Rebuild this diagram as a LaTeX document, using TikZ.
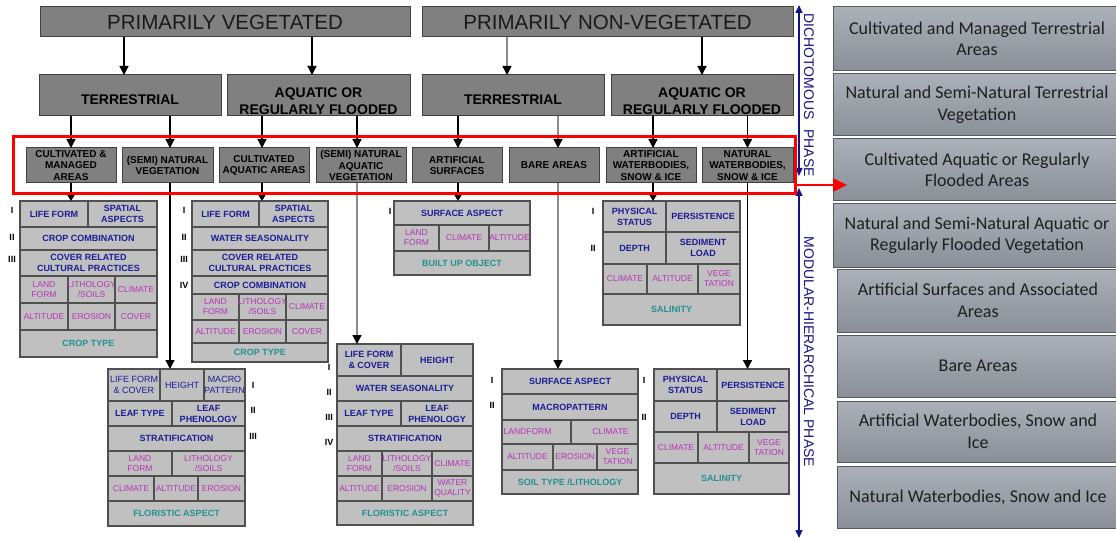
\documentclass[tikz,border=0pt]{standalone}
\usepackage{fontspec}
\setmainfont{Liberation Sans}
\newfontfamily\carlito{Carlito}
\usetikzlibrary{arrows.meta}

\definecolor{boxgray}{RGB}{128,128,128}
\definecolor{boxedge}{RGB}{64,64,64}
\definecolor{cellgray}{RGB}{192,192,192}
\definecolor{cellline}{RGB}{80,80,80}
\definecolor{navytext}{RGB}{28,28,150}
\definecolor{magtext}{RGB}{185,50,185}
\definecolor{tealtext}{RGB}{35,145,145}
\definecolor{axisblue}{RGB}{20,20,130}
\definecolor{panelhi}{RGB}{172,176,184}
\definecolor{panello}{RGB}{138,143,152}
\definecolor{paneledge}{RGB}{85,88,92}

% a plain box node spanning (x1,y1)-(x2,y2)
\newcommand\areabox[6]{%
  \node[#6, minimum width={(#4)-(#2)}, minimum height={(#5)-(#3)}]
    (#1) at ({((#2)+(#4))/2},{((#3)+(#5))/2}) {};}
% one cell of an attribute table: name, x1, y1, x2, y2, text style, text
\newcommand\tcell[7]{%
  \path[cellbox] (#2,#3) rectangle (#4,#5);
  \node[#6] (#1) at ({((#2)+(#4))/2},{((#3)+(#5))/2}) {#7};}

\begin{document}
\begin{tikzpicture}[x=1pt,y=-1pt,
  mainbox/.style={draw=boxedge, fill=boxgray, line width=1pt, inner sep=0, outer sep=0},
  toplbl/.style={font=\fontsize{20.5}{24}\selectfont, text=black!90, inner sep=0},
  midlbl/.style={font=\fontsize{14}{16.5}\selectfont\bfseries, align=center, inner sep=0},
  sublbl/.style={font=\fontsize{10}{11.5}\selectfont\bfseries, align=center, inner sep=0},
  tablebox/.style={draw=cellline, line width=1.2pt, fill=cellgray, inner sep=0, outer sep=0},
  cellbox/.style={draw=cellline, line width=1.1pt, fill=cellgray},
  pri/.style={font=\fontsize{9}{11}\selectfont\bfseries, text=navytext, align=center, inner sep=0},
  pril/.style={font=\fontsize{9}{11}\selectfont, text=navytext, align=center, inner sep=0},
  env/.style={font=\fontsize{8.5}{10}\selectfont, text=magtext, align=center, inner sep=0},
  tech/.style={font=\fontsize{9}{11}\selectfont\bfseries, text=tealtext, align=center, inner sep=0},
  roman/.style={font=\fontsize{9}{11}\selectfont\bfseries, inner sep=0},
  arr/.style={line width=1.3pt, -{Triangle[width=9pt,length=9pt,color=black]}},
  arrs/.style={line width=1.3pt, -{Triangle[width=7pt,length=6pt,color=black]}},
  greyline/.style={draw=black!45},
  redbox/.style={draw=red, line width=3pt, inner sep=0, outer sep=0},
  redarrow/.style={draw=red, line width=2.5pt, -{Triangle[width=13pt,length=14pt]}},
  axis/.style={draw=axisblue, line width=1.5pt,
    {Triangle[width=7pt,length=8pt]}-{Triangle[width=7pt,length=8pt]}},
  phase/.style={font=\fontsize{14}{16}\selectfont, text=axisblue, inner sep=0, rotate=-90},
  panel/.style={draw=paneledge, line width=1pt, top color=panelhi, bottom color=panello,
    inner sep=0, outer sep=0},
  panellbl/.style={font=\carlito\fontsize{18}{21.5}\selectfont, text=black!88,
    align=center, inner sep=0},
]
\useasboundingbox (0,0) rectangle (1116,540);

% ---------- dichotomous phase ----------
\areabox{pv}{40}{7}{410}{37}{mainbox}
\areabox{pnv}{422}{7}{793}{37}{mainbox}
\node[toplbl] (pvl) at (pv.center) {PRIMARILY VEGETATED};
\node[toplbl] (pnvl) at (pnv.center) {PRIMARILY NON-VEGETATED};

\areabox{tv}{39}{75}{221}{116}{mainbox}
\areabox{av}{227}{75}{410}{116}{mainbox}
\areabox{tn}{422}{75}{604}{116}{mainbox}
\areabox{an}{611}{75}{793}{116}{mainbox}
\node[midlbl] (tvl) at ([yshift=-4.5pt]tv.center) {TERRESTRIAL};
\node[midlbl] (avl) at ([yshift=-5.5pt]av.center) {AQUATIC OR\\REGULARLY FLOODED};
\node[midlbl] (tnl) at ([yshift=-4.5pt]tn.center) {TERRESTRIAL};
\node[midlbl] (anl) at ([yshift=-5.5pt]an.center) {AQUATIC OR\\REGULARLY FLOODED};

\areabox{cm}{26}{148}{116}{183}{mainbox}
\areabox{sn}{122}{148}{213}{183}{mainbox}
\areabox{ca}{219}{148}{309}{183}{mainbox}
\areabox{sa}{316}{148}{406}{183}{mainbox}
\areabox{as}{412}{148}{502}{183}{mainbox}
\areabox{ba}{509}{148}{599}{183}{mainbox}
\areabox{aw}{606}{148}{696}{183}{mainbox}
\areabox{nw}{702}{148}{793}{183}{mainbox}
\node[sublbl] (cml) at (cm.center) {CULTIVATED \&\\MANAGED\\AREAS};
\node[sublbl] (snl) at (sn.center) {(SEMI) NATURAL\\VEGETATION};
\node[sublbl] (cal) at (ca.center) {CULTIVATED\\AQUATIC AREAS};
\node[sublbl] (sal) at (sa.center) {(SEMI) NATURAL\\AQUATIC\\VEGETATION};
\node[sublbl] (asl) at (as.center) {ARTIFICIAL\\SURFACES};
\node[sublbl] (bal) at (ba.center) {BARE AREAS};
\node[sublbl] (awl) at (aw.center) {ARTIFICIAL\\WATERBODIES,\\SNOW \& ICE};
\node[sublbl] (nwl) at (nw.center) {NATURAL\\WATERBODIES,\\SNOW \& ICE};

% ---------- modular-hierarchical phase: attribute tables ----------
% cultivated and managed terrestrial areas
\areabox{t1}{20}{201}{157}{357}{tablebox}
\tcell{t1a}{20}{201}{88}{227}{pri}{LIFE FORM}
\tcell{t1b}{88}{201}{157}{227}{pri}{SPATIAL\\ASPECTS}
\tcell{t1c}{20}{227}{157}{250}{pri}{CROP COMBINATION}
\tcell{t1d}{20}{250}{157}{276}{pri}{COVER RELATED\\CULTURAL PRACTICES}
\tcell{t1e}{20}{276}{68}{303}{env}{LAND\\FORM}
\tcell{t1f}{68}{276}{115}{303}{env}{LITHOLOGY\\/SOILS}
\tcell{t1g}{115}{276}{157}{303}{env}{CLIMATE}
\tcell{t1h}{20}{303}{68}{330}{env}{ALTITUDE}
\tcell{t1i}{68}{303}{115}{330}{env}{EROSION}
\tcell{t1j}{115}{303}{157}{330}{env}{COVER}
\tcell{t1k}{20}{330}{157}{357}{tech}{CROP TYPE}
\node[roman] (t1r1) at (12,210) {I};
\node[roman] (t1r2) at (12,237) {II};
\node[roman] (t1r3) at (12,259) {III};

% cultivated aquatic areas
\areabox{t2}{192}{201}{328}{362}{tablebox}
\tcell{t2a}{192}{201}{259}{227}{pri}{LIFE FORM}
\tcell{t2b}{259}{201}{328}{227}{pri}{SPATIAL\\ASPECTS}
\tcell{t2c}{192}{227}{328}{250}{pri}{WATER SEASONALITY}
\tcell{t2d}{192}{250}{328}{276}{pri}{COVER RELATED\\CULTURAL PRACTICES}
\tcell{t2e}{192}{276}{328}{294}{pri}{CROP COMBINATION}
\tcell{t2f}{192}{294}{239}{320}{env}{LAND\\FORM}
\tcell{t2g}{239}{294}{286}{320}{env}{LITHOLOGY\\/SOILS}
\tcell{t2h}{286}{294}{328}{320}{env}{CLIMATE}
\tcell{t2i}{192}{320}{239}{343}{env}{ALTITUDE}
\tcell{t2j}{239}{320}{286}{343}{env}{EROSION}
\tcell{t2k}{286}{320}{328}{343}{env}{COVER}
\tcell{t2l}{192}{343}{328}{362}{tech}{CROP TYPE}
\node[roman] (t2r1) at (184,210) {I};
\node[roman] (t2r2) at (184,237) {II};
\node[roman] (t2r3) at (184,259) {III};
\node[roman] (t2r4) at (184,285) {IV};

% natural and semi-natural terrestrial vegetation
\areabox{t3}{108}{369}{245}{526}{tablebox}
\tcell{t3a}{108}{369}{160}{401}{pril}{LIFE FORM\\\& COVER}
\tcell{t3b}{160}{369}{204}{401}{pril}{HEIGHT}
\tcell{t3c}{204}{369}{245}{401}{pril}{MACRO\\PATTERN}
\tcell{t3d}{108}{401}{172}{426}{pri}{LEAF TYPE}
\tcell{t3e}{172}{401}{245}{426}{pri}{LEAF\\PHENOLOGY}
\tcell{t3f}{108}{426}{245}{451}{pri}{STRATIFICATION}
\tcell{t3g}{108}{451}{172}{476}{env}{LAND\\FORM}
\tcell{t3h}{172}{451}{245}{476}{env}{LITHOLOGY\\/SOILS}
\tcell{t3i}{108}{476}{154}{501}{env}{CLIMATE}
\tcell{t3j}{154}{476}{198}{501}{env}{ALTITUDE}
\tcell{t3k}{198}{476}{245}{501}{env}{EROSION}
\tcell{t3l}{108}{501}{245}{526}{tech}{FLORISTIC ASPECT}
\node[roman] (t3r1) at (253,385) {I};
\node[roman] (t3r2) at (253,410) {II};
\node[roman] (t3r3) at (253,436) {III};

% natural and semi-natural aquatic vegetation
\areabox{t4}{337}{344}{473}{525}{tablebox}
\tcell{t4a}{337}{344}{401}{376}{pri}{LIFE FORM\\\& COVER}
\tcell{t4b}{401}{344}{473}{376}{pri}{HEIGHT}
\tcell{t4c}{337}{376}{473}{401}{pri}{WATER SEASONALITY}
\tcell{t4d}{337}{401}{401}{426}{pri}{LEAF TYPE}
\tcell{t4e}{401}{401}{473}{426}{pri}{LEAF\\PHENOLOGY}
\tcell{t4f}{337}{426}{473}{451}{pri}{STRATIFICATION}
\tcell{t4g}{337}{451}{382}{476}{env}{LAND\\FORM}
\tcell{t4h}{382}{451}{432}{476}{env}{LITHOLOGY\\/SOILS}
\tcell{t4i}{432}{451}{473}{476}{env}{CLIMATE}
\tcell{t4j}{337}{476}{382}{501}{env}{ALTITUDE}
\tcell{t4k}{382}{476}{432}{501}{env}{EROSION}
\tcell{t4l}{432}{476}{473}{501}{env}{WATER\\QUALITY}
\tcell{t4m}{337}{501}{473}{525}{tech}{FLORISTIC ASPECT}
\node[roman] (t4r1) at (329,367) {I};
\node[roman] (t4r2) at (329,392) {II};
\node[roman] (t4r3) at (329,417) {III};
\node[roman] (t4r4) at (329,442) {IV};

% artificial surfaces
\areabox{t5}{394}{201}{530}{275}{tablebox}
\tcell{t5a}{394}{201}{530}{225}{pri}{SURFACE ASPECT}
\tcell{t5b}{394}{225}{439}{251}{env}{LAND\\FORM}
\tcell{t5c}{439}{225}{489}{251}{env}{CLIMATE}
\tcell{t5d}{489}{225}{530}{251}{env}{ALTITUDE}
\tcell{t5e}{394}{251}{530}{275}{tech}{BUILT UP OBJECT}
\node[roman] (t5r1) at (390,211) {I};

% bare areas
\areabox{t6}{502}{369}{638}{494}{tablebox}
\tcell{t6a}{502}{369}{638}{394}{pri}{SURFACE ASPECT}
\tcell{t6b}{502}{394}{638}{420}{pri}{MACROPATTERN}
\tcell{t6c}{502}{420}{571}{444}{env,xshift=-9pt}{LANDFORM}
\tcell{t6d}{571}{420}{638}{444}{env,xshift=6pt}{CLIMATE}
\tcell{t6e}{502}{444}{553}{470}{env}{ALTITUDE}
\tcell{t6f}{553}{444}{597}{470}{env}{EROSION}
\tcell{t6g}{597}{444}{638}{470}{env}{VEGE\\TATION}
\tcell{t6h}{502}{470}{638}{494}{tech}{SOIL TYPE /LITHOLOGY}
\node[roman] (t6r1) at (492,380) {I};
\node[roman] (t6r2) at (492,405) {II};

% artificial waterbodies, snow and ice
\areabox{t7}{603}{201}{740}{325}{tablebox}
\tcell{t7a}{603}{201}{666}{232}{pri}{PHYSICAL\\STATUS}
\tcell{t7b}{666}{201}{740}{232}{pri}{PERSISTENCE}
\tcell{t7c}{603}{232}{666}{264}{pri}{DEPTH}
\tcell{t7d}{666}{232}{740}{264}{pri}{SEDIMENT\\LOAD}
\tcell{t7e}{603}{264}{647}{294}{env}{CLIMATE}
\tcell{t7f}{647}{264}{698}{294}{env}{ALTITUDE}
\tcell{t7g}{698}{264}{740}{294}{env}{VEGE\\TATION}
\tcell{t7h}{603}{294}{740}{325}{tech}{SALINITY}
\node[roman] (t7r1) at (593,211) {I};
\node[roman] (t7r2) at (593,248) {II};

% natural waterbodies, snow and ice
\areabox{t8}{654}{369}{789}{494}{tablebox}
\tcell{t8a}{654}{369}{717}{401}{pri}{PHYSICAL\\STATUS}
\tcell{t8b}{717}{369}{789}{401}{pri}{PERSISTENCE}
\tcell{t8c}{654}{401}{717}{432}{pri}{DEPTH}
\tcell{t8d}{717}{401}{789}{432}{pri}{SEDIMENT\\LOAD}
\tcell{t8e}{654}{432}{698}{463}{env}{CLIMATE}
\tcell{t8f}{698}{432}{749}{463}{env}{ALTITUDE}
\tcell{t8g}{749}{432}{789}{463}{env}{VEGE\\TATION}
\tcell{t8h}{654}{463}{789}{494}{tech}{SALINITY}
\node[roman] (t8r1) at (644,380) {I};
\node[roman] (t8r2) at (644,417) {II};

% ---------- connectors ----------
\draw[arr] ([xshift=-6pt]tv.north |- pv.south) -- ([xshift=-6pt]tv.north);
\draw[arr] ([xshift=-6.5pt]av.north |- pv.south) -- ([xshift=-6.5pt]av.north);
\draw[arr,greyline] ([xshift=-6pt]tn.north |- pnv.south) -- ([xshift=-6pt]tn.north);
\draw[arr] (an.north |- pnv.south) -- (an.north);

\draw[arr] (tv.south -| cm.north) -- (cm.north);
\draw[arr] ([xshift=2.5pt]sn.north |- tv.south) -- ([xshift=2.5pt]sn.north);
\draw[arr] ([xshift=-2pt]ca.north |- av.south) -- ([xshift=-2pt]ca.north);
\draw[arr] ([xshift=-4pt]sa.north |- av.south) -- ([xshift=-4pt]sa.north);
\draw[arr] ([xshift=1pt]as.north |- tn.south) -- ([xshift=1pt]as.north);
\draw[arr,greyline] ([xshift=4pt]ba.north |- tn.south) -- ([xshift=4pt]ba.north);
\draw[arr] ([xshift=2pt]aw.north |- an.south) -- ([xshift=2pt]aw.north);
\draw[arr] (nw.north |- an.south) -- (nw.north);

\draw[arrs] (cm.south) -- (cm.south |- t1.north);
\draw[arr] ([xshift=2.5pt]sn.south) -- ([xshift=2.5pt]sn.south |- t3.north);
\draw[arrs] ([xshift=-2pt]ca.south) -- ([xshift=-2pt]ca.south |- t2.north);
\draw[arr,greyline] ([xshift=-4pt]sa.south) -- ([xshift=-4pt]sa.south |- t4.north);
\draw[arrs] ([xshift=1pt]as.south) -- ([xshift=1pt]as.south |- t5.north);
\draw[arr,greyline] ([xshift=4pt]ba.south) -- ([xshift=4pt]ba.south |- t6.north);
\draw[arrs] ([xshift=2pt]aw.south) -- ([xshift=2pt]aw.south |- t7.north);
\draw[arr] (nw.south) -- (nw.south |- t8.north);

% ---------- the two phases ----------
\coordinate (axtop) at (799,5);
\coordinate (axup) at (799,176);
\coordinate (axlow) at (799,188);
\coordinate (axbot) at (799,538);
\draw[axis] (axup) -- (axtop);
\draw[axis] (axlow) -- (axbot);
\node[phase] (dich) at (809,95) {DICHOTOMOUS\hspace{6pt} PHASE};
\node[phase] (modh) at (809,352) {MODULAR-HIERARCHICAL PHASE};

% ---------- land cover classes ----------
\areabox{r1}{833}{7}{1120}{71}{panel}
\areabox{r2}{833}{74}{1120}{136}{panel}
\areabox{r3}{833}{139}{1120}{201}{panel}
\areabox{r4}{833}{204}{1120}{267}{panel}
\areabox{r5}{837}{269}{1120}{332}{panel}
\areabox{r6}{837}{335}{1120}{397}{panel}
\areabox{r7}{837}{401}{1120}{462}{panel}
\areabox{r8}{837}{466}{1120}{528}{panel}
\node[panellbl] (r1l) at (977,39) {Cultivated and Managed Terrestrial\\Areas};
\node[panellbl] (r2l) at (977,105) {Natural and Semi-Natural Terrestrial\\Vegetation};
\node[panellbl] (r3l) at (977,170) {Cultivated Aquatic or Regularly\\Flooded Areas};
\node[panellbl] (r4l) at (977,235.5) {Natural and Semi-Natural Aquatic or\\Regularly Flooded Vegetation};
\node[panellbl] (r5l) at (978,300.5) {Artificial Surfaces and Associated\\Areas};
\node[panellbl] (r6l) at (978,366) {Bare Areas};
\node[panellbl] (r7l) at (978,431.5) {Artificial Waterbodies, Snow and\\Ice};
\node[panellbl] (r8l) at (978,497) {Natural Waterbodies, Snow and Ice};

% ---------- highlighted level ----------
\areabox{redframe}{13}{137}{795}{194}{redbox}
\draw[redarrow] ([yshift=9pt]redframe.south east) coordinate (ra) -- ([xshift=14pt]r3.west |- ra);
\end{tikzpicture}
\end{document}
